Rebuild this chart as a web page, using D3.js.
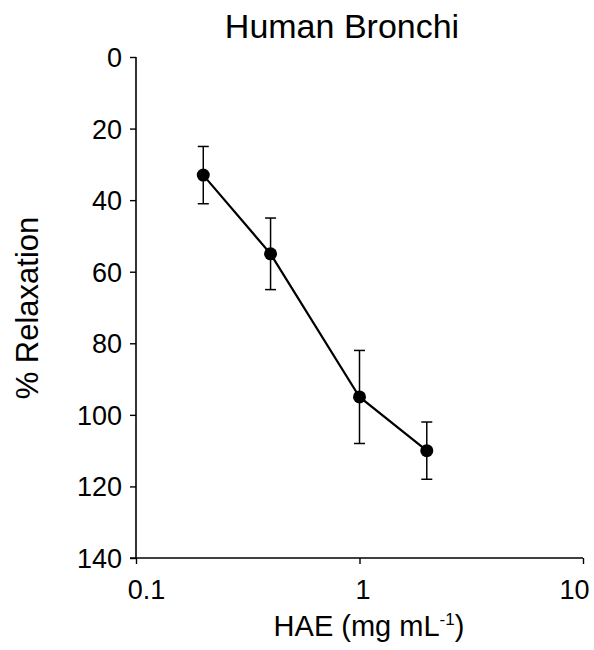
<!DOCTYPE html>
<html>
<head>
<meta charset="utf-8">
<script src="https://cdn.jsdelivr.net/npm/d3@7"></script>
<style>
  body { margin: 0; background: #fff; }
  svg text { font-family: "Liberation Sans", Arial, sans-serif; fill: #000; }
</style>
</head>
<body>
<svg id="chart" width="594" height="650"></svg>
<script>
// data
var dose = [0.2, 0.4, 1, 2];            // HAE, mg mL-1
var relax = [33, 55, 95, 110];          // % relaxation (mean)
var errLow = [25, 45, 82, 102];         // bar top (smaller value)
var errHigh = [41, 65, 108, 118];       // bar bottom
var xTicks = [0.1, 1, 10];
var yTicks = [0, 20, 40, 60, 80, 100, 120, 140];

var svg = d3.select('#chart');
var plotL = 136, plotR = 583, plotT = 57, plotB = 558;

var x = d3.scaleLog().domain([0.1, 10]).range([plotL, plotR]);
// inverted axis: 0 at top, 140 at bottom
var y = d3.scaleLinear().domain([0, 140]).range([plotT, plotB]);

// y axis
var yAxis = svg.append('g')
    .attr('transform', 'translate(' + plotL + ',0)')
    .call(d3.axisLeft(y).tickValues(yTicks).tickSize(6).tickPadding(8).tickFormat(d3.format('d')));
yAxis.select('.domain').attr('d', 'M0,' + plotT + 'V' + plotB).attr('stroke', '#000').attr('stroke-width', 1.6);
yAxis.selectAll('.tick line').attr('stroke', '#000').attr('stroke-width', 1.4);
yAxis.selectAll('.tick text').style('font-size', '27px').attr('dy', '0.35em');

// x axis
var xAxis = svg.append('g')
    .attr('transform', 'translate(0,' + plotB + ')')
    .call(d3.axisBottom(x).tickValues(xTicks).tickSize(6).tickPadding(16).tickFormat(function (d) { return String(d); }));
xAxis.select('.domain').attr('d', 'M' + (plotL - 6) + ',0H' + plotR).attr('stroke', '#000').attr('stroke-width', 1.6);
xAxis.selectAll('.tick line').attr('stroke', '#000').attr('stroke-width', 1.4);
// labels sit a little off their ticks in the original; last one kept inside the frame
var labelShift = [10, 3, -9];
xAxis.selectAll('.tick text')
    .style('font-size', '27px')
    .attr('dx', function (d, i) { return labelShift[i]; });

// connecting line
var line = d3.line()
    .x(function (d, i) { return x(dose[i]); })
    .y(function (d) { return y(d); });
svg.append('path')
    .datum(relax)
    .attr('d', line)
    .attr('fill', 'none')
    .attr('stroke', '#000')
    .attr('stroke-width', 2.2);

// error bars
var eb = svg.append('g').selectAll('g')
    .data(dose)
    .enter().append('g')
    .attr('stroke', '#000')
    .attr('stroke-width', 1.5);
eb.append('line')
    .attr('x1', function (d) { return x(d); })
    .attr('x2', function (d) { return x(d); })
    .attr('y1', function (d, i) { return y(errLow[i]); })
    .attr('y2', function (d, i) { return y(errHigh[i]); });
eb.append('line')
    .attr('x1', function (d) { return x(d) - 5.5; })
    .attr('x2', function (d) { return x(d) + 5.5; })
    .attr('y1', function (d, i) { return y(errLow[i]); })
    .attr('y2', function (d, i) { return y(errLow[i]); });
eb.append('line')
    .attr('x1', function (d) { return x(d) - 5.5; })
    .attr('x2', function (d) { return x(d) + 5.5; })
    .attr('y1', function (d, i) { return y(errHigh[i]); })
    .attr('y2', function (d, i) { return y(errHigh[i]); });

// markers
svg.append('g').selectAll('circle')
    .data(dose)
    .enter().append('circle')
    .attr('cx', function (d) { return x(d); })
    .attr('cy', function (d, i) { return y(relax[i]); })
    .attr('r', 6.5)
    .attr('fill', '#000');

// title
svg.append('text')
    .attr('x', 342)
    .attr('y', 38)
    .attr('text-anchor', 'middle')
    .style('font-size', '34px')
    .text('Human Bronchi');

// x label with superscript
var xl = svg.append('text')
    .attr('x', 369)
    .attr('y', 636)
    .attr('text-anchor', 'middle')
    .style('font-size', '29px');
xl.append('tspan').text('HAE (mg mL');
xl.append('tspan').attr('dy', -11).style('font-size', '17px').text('-1');
xl.append('tspan').attr('dy', 11).text(')');

// y label
svg.append('text')
    .attr('transform', 'translate(38,308) rotate(-90)')
    .attr('text-anchor', 'middle')
    .style('font-size', '31px')
    .text('% Relaxation');
</script>
</body>
</html>
